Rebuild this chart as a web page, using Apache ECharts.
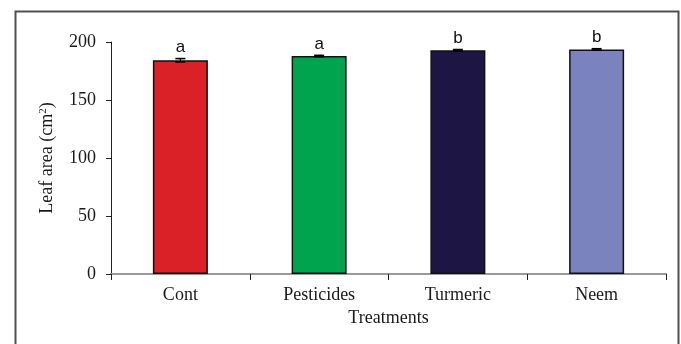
<!DOCTYPE html>
<html><head><meta charset="utf-8">
<script src="https://cdn.jsdelivr.net/npm/echarts@6/dist/echarts.min.js"></script>
<style>html,body{margin:0;padding:0;background:#fff}#c{width:681px;height:344px}</style>
</head><body><div id="c"></div>
<script>
const categories = ['Cont', 'Pesticides', 'Turmeric', 'Neem'];
const values = [184.2, 187.9, 192.9, 193.6];
const errors = [1.5, 0.6, 0.6, 0.6];
const letters = ['a', 'a', 'b', 'b'];
const colors = ['#DA2128', '#00A44F', '#1D1645', '#7B83BF'];
const yTicks = [0, 50, 100, 150, 200];

const chart = echarts.init(document.getElementById('c'), null, {renderer: 'canvas'});
const serif = "'Liberation Serif', 'Times New Roman', serif";
chart.setOption({
  animation: false,
  graphic: [{
    type: 'rect', left: 13, top: 9, shape: {x: 0, y: 0, width: 663, height: 345},
    style: {fill: 'none', stroke: '#505050', lineWidth: 2}, z: 0
  }],
  grid: {left: 111, right: 15, top: 42, bottom: 70},
  xAxis: {
    type: 'category', data: categories,
    axisLine: {lineStyle: {color: '#9a9a9a', width: 2}},
    axisTick: {show: true, length: 6, lineStyle: {color: '#222', width: 1}},
    axisLabel: {fontFamily: serif, fontSize: 18, color: '#1a1a1a', margin: 12},
    name: 'Treatments', nameLocation: 'middle', nameGap: 33,
    nameTextStyle: {fontFamily: serif, fontSize: 18, color: '#1a1a1a'}
  },
  yAxis: {
    type: 'value', min: yTicks[0], max: yTicks[yTicks.length - 1], interval: 50,
    axisLine: {show: true, lineStyle: {color: '#222', width: 1}},
    axisTick: {show: true, length: 5, lineStyle: {color: '#222'}},
    splitLine: {show: false},
    axisLabel: {fontFamily: serif, fontSize: 18, color: '#1a1a1a', margin: 15},
    name: '{n|Leaf area (cm}{s|2}{n|)}', nameLocation: 'middle', nameGap: 55,
    nameTextStyle: {fontFamily: serif, fontSize: 18, color: '#1a1a1a',
      rich: {n: {fontFamily: serif, fontSize: 18, color: '#1a1a1a'},
             s: {fontFamily: serif, fontSize: 11, color: '#1a1a1a', verticalAlign: 'top', padding: [0, 0, 7, 0]}}}
  },
  series: [{
    type: 'bar', barWidth: 55,
    data: values.map((v, i) => ({value: v, itemStyle: {color: colors[i]}})),
    itemStyle: {borderColor: '#111', borderWidth: 1.5}
  }, {
    type: 'custom', z: 10,
    data: values.map((v, i) => [i, v, errors[i]]),
    renderItem: function (params, api) {
      const x = api.value(0), v = api.value(1), e = api.value(2);
      const hi = api.coord([x, v + e]), lo = api.coord([x, v - e]);
      const w = 5;
      return {type: 'group', children: [
        {type: 'line', shape: {x1: hi[0], y1: hi[1], x2: lo[0], y2: lo[1]}, style: {stroke: '#000', lineWidth: 1.2}},
        {type: 'line', shape: {x1: hi[0] - w, y1: hi[1], x2: hi[0] + w, y2: hi[1]}, style: {stroke: '#000', lineWidth: 1.6}},
        {type: 'line', shape: {x1: lo[0] - w, y1: lo[1], x2: lo[0] + w, y2: lo[1]}, style: {stroke: '#000', lineWidth: 1.6}},
        {type: 'text', style: {text: letters[params.dataIndex], x: hi[0], y: hi[1] - 3, align: 'center', verticalAlign: 'bottom',
          font: "17px 'Liberation Sans Narrow', 'Liberation Sans', Arial, sans-serif", fill: '#111'}}
      ]};
    }
  }]
});
</script></body></html>
